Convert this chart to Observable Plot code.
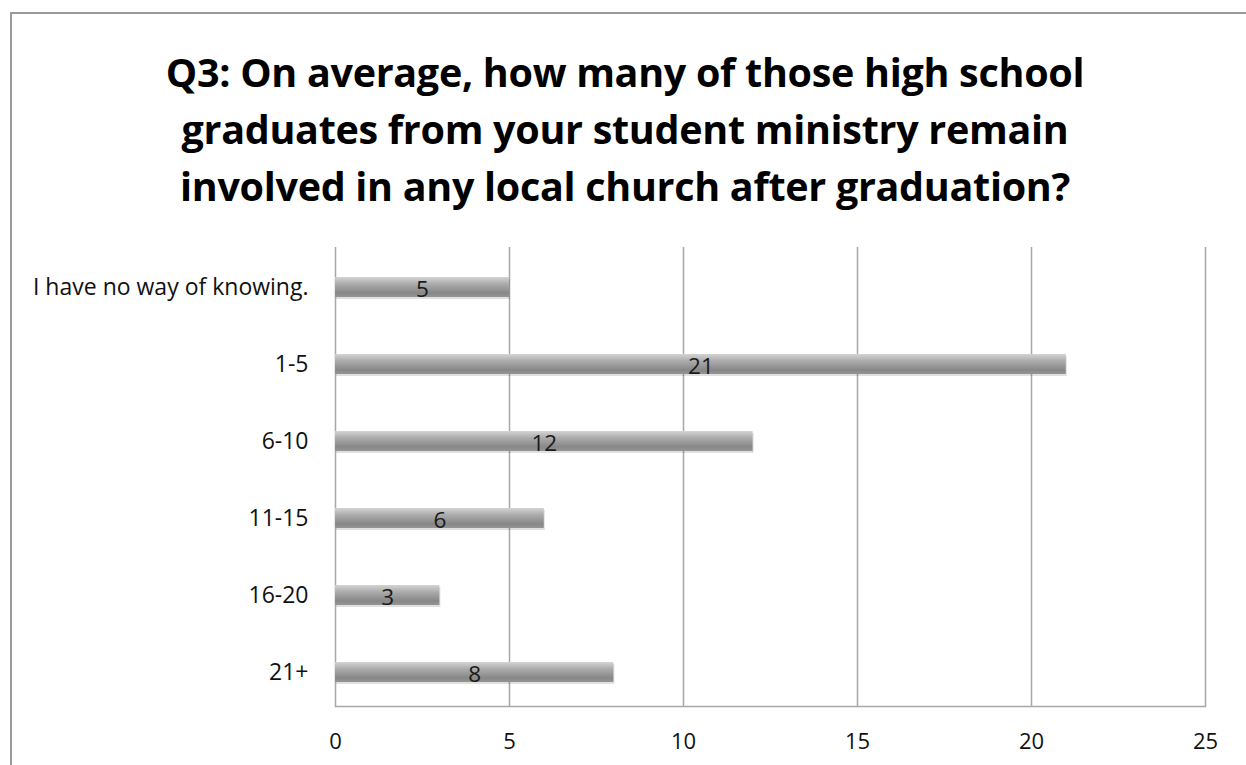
<!DOCTYPE html>
<html>
<head>
<meta charset="utf-8">
<script src="https://cdn.jsdelivr.net/npm/d3@7"></script>
<script src="https://cdn.jsdelivr.net/npm/@observablehq/plot@0.6"></script>
<style>
  html, body { margin: 0; padding: 0; background: #fff; }
  body { width: 1246px; height: 765px; position: relative; overflow: hidden; font-family: "Open Sans", Lato, sans-serif; }
  #frame { position: absolute; left: 10px; top: 12px; width: 1300px; height: 800px; border-left: 2px solid #9a9a9a; border-top: 2px solid #9a9a9a; box-sizing: border-box; }
  #title { position: absolute; left: 0; width: 1250px; top: 44px; text-align: center; font-weight: 700; font-size: 39.5px; line-height: 57px; color: #000; letter-spacing: -0.3px; }
  #chart { position: absolute; left: 0; top: 230px; }
</style>
</head>
<body>
<div id="frame"></div>
<div id="title">Q3: On average, how many of those high school<br>graduates from your student ministry remain<br>involved in any local church after graduation?</div>
<div id="chart"></div>
<script>
// Survey responses: number of churches per answer bucket
const categories = ["I have no way of knowing.", "1-5", "6-10", "11-15", "16-20", "21+"];
const counts = [5, 21, 12, 6, 3, 8];
const xTicks = [0, 5, 10, 15, 20, 25];

const rows = categories.map((c, i) => ({category: c, count: counts[i]}));

const chart = Plot.plot({
  width: 1246,
  height: 535,
  marginLeft: 335,
  marginRight: 41,
  marginTop: 17,
  marginBottom: 59,
  style: {fontFamily: "'Open Sans', Lato, sans-serif", fontSize: "22px", color: "#111", background: "transparent"},
  x: {domain: [0, 25], ticks: xTicks, label: null},
  y: {domain: categories, paddingInner: 0.74, paddingOuter: 0.35, align: 0.55, label: null},
  marks: [
    Plot.ruleX(xTicks, {stroke: "#a8a8a8", strokeWidth: 1.5, strokeOpacity: 1}),
    Plot.frame({anchor: "bottom", stroke: "#a8a8a8", strokeWidth: 1.5, strokeOpacity: 1}),
    // soft drop shadow under each bar
    Plot.barX(rows, {x: "count", y: "category", fill: "#000", fillOpacity: 0.12, dx: 1, dy: 2}),
    Plot.barX(rows, {x: "count", y: "category", fill: "url(#barGrad)"}),
    Plot.text(rows, {x: d => d.count / 2, y: "category", text: d => String(d.count), fontSize: 22.5, fill: "#1a1a1a", dy: 2}),
    Plot.axisX({ticks: xTicks, tickSize: 0, tickPadding: 27, fontSize: 22, label: null}),
    Plot.axisY({tickSize: 0, tickPadding: 27, fontSize: 23, label: null})
  ]
});

// vertical gradient used by the bars
const svg = d3.select(chart);
const defs = svg.insert("defs", ":first-child");
const grad = defs.append("linearGradient").attr("id", "barGrad").attr("x1", 0).attr("y1", 0).attr("x2", 0).attr("y2", 1);
grad.append("stop").attr("offset", "0%").attr("stop-color", "#d4d4d4");
grad.append("stop").attr("offset", "35%").attr("stop-color", "#ababab");
grad.append("stop").attr("offset", "80%").attr("stop-color", "#878787");
grad.append("stop").attr("offset", "100%").attr("stop-color", "#959595");

document.getElementById("chart").appendChild(chart);
</script>
</body>
</html>
